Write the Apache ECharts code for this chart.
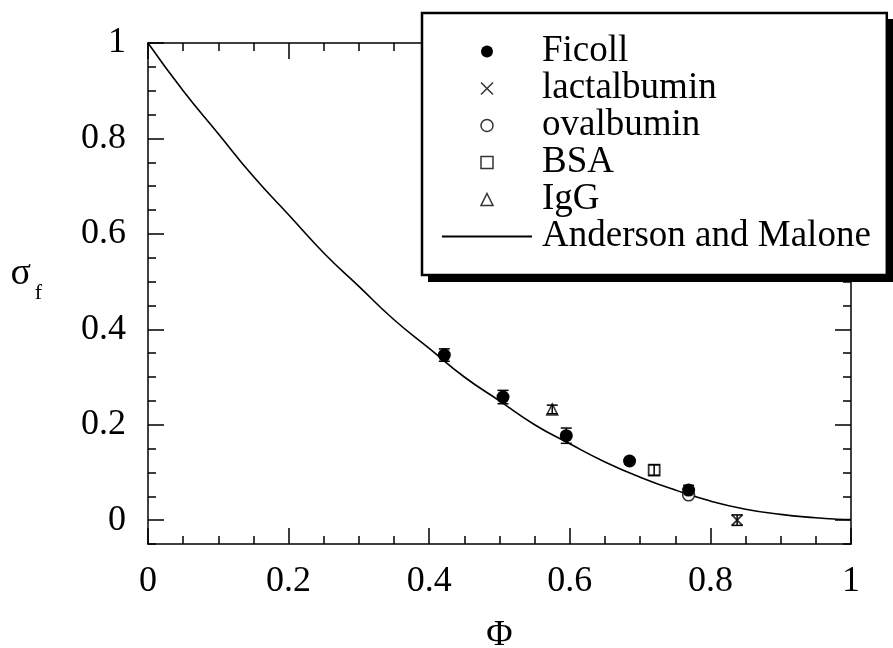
<!DOCTYPE html>
<html>
<head>
<meta charset="utf-8">
<script src="https://cdn.jsdelivr.net/npm/echarts@6/dist/echarts.min.js"></script>
<style>html,body{margin:0;padding:0;background:#fff}#c{width:893px;height:648px}</style>
</head>
<body>
<div id="c"></div>
<script>
// ---- data ----
const xTicks = [0, 0.2, 0.4, 0.6, 0.8, 1];
const yTicks = [0, 0.2, 0.4, 0.6, 0.8, 1];
const yMinorTicks = [-0.05, 0.05, 0.1, 0.15, 0.25, 0.3, 0.35, 0.45, 0.5, 0.55, 0.65, 0.7, 0.75, 0.85, 0.9, 0.95];

// [Phi, sigma_f, error]
const ficoll = [[0.4215, 0.346, 0.013], [0.505, 0.258, 0.014], [0.595, 0.177, 0.016], [0.685, 0.124, 0.006], [0.769, 0.063, 0.010]];
const lactalbumin = [[0.838, 0.0, 0.011]];
const ovalbumin = [[0.769, 0.053, 0.0]];
const bsa = [[0.72, 0.105, 0.011]];
const igg = [[0.575, 0.232, 0.009]];
// Anderson and Malone curve
const curvePhi = [0, 0.05, 0.1, 0.15, 0.2, 0.25, 0.3, 0.35, 0.4, 0.45, 0.5, 0.55, 0.6, 0.65, 0.7, 0.75, 0.8, 0.85, 0.9, 0.95, 0.98, 1.0];
const curveSigma = [1.0, 0.90, 0.81, 0.72, 0.64, 0.56, 0.49, 0.42, 0.36, 0.30, 0.25, 0.20, 0.16, 0.122, 0.09, 0.063, 0.04, 0.023, 0.012, 0.005, 0.002, 0.001];

const FONT = 'Liberation Serif';
const xPath = 'path://M0,0L10,10M10,0L0,10';
const rectPath = 'path://M0,0H10V10H0Z';
const triPath = 'path://M5,0L10,10H0Z';

function errRender(params, api) {
  const x = api.value(0), y = api.value(1), e = api.value(2);
  if (!e) return null;
  const hi = api.coord([x, y + e]), lo = api.coord([x, y - e]);
  const w = 5.5, st = { stroke: '#000', lineWidth: 1.5 };
  return { type: 'group', children: [
    { type: 'line', shape: { x1: hi[0], y1: hi[1], x2: lo[0], y2: lo[1] }, style: st },
    { type: 'line', shape: { x1: hi[0] - w, y1: hi[1], x2: hi[0] + w, y2: hi[1] }, style: st },
    { type: 'line', shape: { x1: lo[0] - w, y1: lo[1], x2: lo[0] + w, y2: lo[1] }, style: st }
  ]};
}
function errSeries(data, name) {
  return { type: 'custom', name: name + '_err', data: data, renderItem: errRender,
    encode: { x: 0, y: 1 }, z: 3, silent: true };
}

const axisLine = { show: true, onZero: false, lineStyle: { color: '#000', width: 1.5 } };
const chart = echarts.init(document.getElementById('c'));
chart.setOption({
  animation: false,
  backgroundColor: '#fff',
  grid: { left: 148, right: 42, top: 43, bottom: 104, containLabel: false, outerBoundsMode: 'none' },
  graphic: [
    { type: 'rect', z: 3, shape: { x: 428, y: 19, width: 466, height: 263 }, style: { fill: '#000' } }
  ],
  xAxis: [
    { type: 'value', position: 'bottom', min: 0, max: 1, interval: 0.2,
      axisLine: axisLine,
      axisTick: { show: true, inside: true, length: 16, lineStyle: { color: '#000', width: 1.5 } },
      minorTick: { show: true, splitNumber: 4, length: 8, lineStyle: { color: '#000', width: 1.5 } },
      axisLabel: { customValues: xTicks, margin: 20, color: '#000', fontFamily: FONT, fontSize: 36 },
      splitLine: { show: false },
      name: 'Φ', nameLocation: 'middle', nameGap: 74,
      nameTextStyle: { color: '#000', fontFamily: FONT, fontSize: 36 } },
    { type: 'value', position: 'top', min: 0, max: 1, interval: 0.2,
      axisLine: axisLine,
      axisTick: { show: true, inside: true, length: 16, lineStyle: { color: '#000', width: 1.5 } },
      minorTick: { show: true, splitNumber: 4, length: 8, lineStyle: { color: '#000', width: 1.5 } },
      axisLabel: { show: false }, splitLine: { show: false } }
  ],
  yAxis: [
    { type: 'value', position: 'left', min: -0.05, max: 1,
      axisLine: axisLine,
      axisTick: { show: true, inside: true, length: 16, customValues: yTicks, lineStyle: { color: '#000', width: 1.5 } },
      axisLabel: { customValues: yTicks, margin: 22, color: '#000', fontFamily: FONT, fontSize: 36 },
      splitLine: { show: false },
      name: 'σ', nameLocation: 'middle', nameRotate: 0, nameGap: 117,
      nameTextStyle: { color: '#000', fontFamily: FONT, fontSize: 38, verticalAlign: 'bottom' } },
    { type: 'value', position: 'left', min: -0.05, max: 1,
      axisLine: { show: false, onZero: false },
      axisTick: { show: true, inside: true, length: 8, customValues: yMinorTicks, lineStyle: { color: '#000', width: 1.5 } },
      axisLabel: { show: false }, splitLine: { show: false },
      name: 'f', nameLocation: 'middle', nameRotate: 0, nameGap: 106,
      nameTextStyle: { color: '#000', fontFamily: FONT, fontSize: 22, padding: [10, 0, 0, 0] } },
    { type: 'value', position: 'right', min: -0.05, max: 1,
      axisLine: axisLine,
      axisTick: { show: true, inside: true, length: 16, customValues: yTicks, lineStyle: { color: '#000', width: 1.5 } },
      axisLabel: { show: false }, splitLine: { show: false } },
    { type: 'value', position: 'right', min: -0.05, max: 1,
      axisLine: { show: false, onZero: false },
      axisTick: { show: true, inside: true, length: 8, customValues: yMinorTicks, lineStyle: { color: '#000', width: 1.5 } },
      axisLabel: { show: false }, splitLine: { show: false } }
  ],
  legend: {
    orient: 'vertical', left: 422, top: 13, align: 'left', z: 10,
    padding: [20, 16, 20, 19], itemGap: 0, itemWidth: 90, itemHeight: 12,
    backgroundColor: '#fff', borderColor: '#000', borderWidth: 2.5, borderRadius: 0,
    textStyle: { color: '#000', fontFamily: FONT, fontSize: 37, lineHeight: 37, padding: [0, 0, 0, 5] },
    selectedMode: false,
    data: [
      { name: 'Ficoll', icon: 'circle', itemStyle: { color: '#000' } },
      { name: 'lactalbumin', icon: xPath, itemStyle: { color: 'none', borderColor: '#000', borderWidth: 1.5 } },
      { name: 'ovalbumin', icon: 'circle', itemStyle: { color: '#fff', borderColor: '#000', borderWidth: 1.5 } },
      { name: 'BSA', icon: rectPath, itemStyle: { color: '#fff', borderColor: '#000', borderWidth: 1.5 } },
      { name: 'IgG', icon: triPath, itemStyle: { color: '#fff', borderColor: '#000', borderWidth: 1.5 } },
      { name: 'Anderson and Malone', itemStyle: { color: 'rgba(0,0,0,0)', borderColor: 'rgba(0,0,0,0)', borderWidth: 0 } }
    ]
  },
  series: [
    { type: 'line', name: 'Anderson and Malone', smooth: true, symbol: 'none',
      data: curvePhi.map((p, i) => [p, curveSigma[i]]),
      lineStyle: { color: '#000', width: 1.6 }, itemStyle: { color: '#000' }, z: 2 },
    errSeries(ficoll, 'Ficoll'), errSeries(lactalbumin, 'lactalbumin'), errSeries(bsa, 'BSA'), errSeries(igg, 'IgG'),
    { type: 'scatter', name: 'ovalbumin', data: ovalbumin, symbol: 'circle', symbolSize: 12,
      itemStyle: { color: '#fff', borderColor: '#000', borderWidth: 1.5 }, z: 4 },
    { type: 'scatter', name: 'Ficoll', data: ficoll, symbol: 'circle', symbolSize: 13,
      itemStyle: { color: '#000', opacity: 1 }, z: 5 },
    { type: 'scatter', name: 'lactalbumin', data: lactalbumin, symbol: xPath, symbolSize: 11,
      itemStyle: { color: 'none', borderColor: '#000', borderWidth: 1.8 }, z: 5 },
    { type: 'scatter', name: 'BSA', data: bsa, symbol: 'rect', symbolSize: 11,
      itemStyle: { color: 'rgba(0,0,0,0)', borderColor: '#000', borderWidth: 1.8 }, z: 5 },
    { type: 'scatter', name: 'IgG', data: igg, symbol: 'triangle', symbolSize: 11,
      itemStyle: { color: 'rgba(0,0,0,0)', borderColor: '#000', borderWidth: 1.5 }, z: 5 }
  ]
});
</script>
</body>
</html>
